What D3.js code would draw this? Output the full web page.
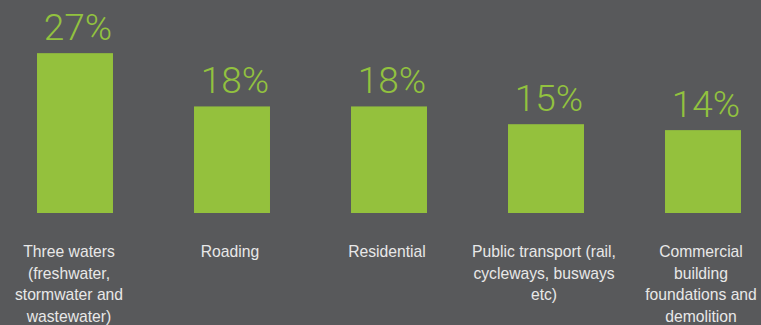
<!DOCTYPE html>
<html>
<head>
<meta charset="utf-8">
<script src="https://cdn.jsdelivr.net/npm/d3@7"></script>
<style>
  html, body { margin: 0; padding: 0; background: #58595b; }
  svg { display: block; }
</style>
</head>
<body>
<svg id="chart" width="761" height="325"></svg>
<script>
// Share of work by sector
const categories = [
  "Three waters (freshwater, stormwater and wastewater)",
  "Roading",
  "Residential",
  "Public transport (rail, cycleways, busways etc)",
  "Commercial building foundations and demolition"
];
const categoryLines = [
  ["Three waters", "(freshwater,", "stormwater and", "wastewater)"],
  ["Roading"],
  ["Residential"],
  ["Public transport (rail,", "cycleways, busways", "etc)"],
  ["Commercial", "building", "foundations and", "demolition"]
];
const values = [27, 18, 18, 15, 14];
const valueLabels = ["27%", "18%", "18%", "15%", "14%"];

const width = 761, height = 325;
const baseline = 213;
const bg = "#58595b";
const barColor = "#94c13d";
const valueColor = "#92c23f";
const textColor = "#e8e8e8";

const svg = d3.select("#chart");
svg.append("rect").attr("width", width).attr("height", height).attr("fill", bg);

const x = d3.scaleBand()
  .domain(categories)
  .range([-3.5, 781.5])
  .paddingInner(0.516)
  .paddingOuter(0.258);

const y = d3.scaleLinear()
  .domain([0, 27])
  .range([baseline, baseline - 27 * 5.92]);

const data = categories.map((c, i) => ({
  cat: c, value: values[i], label: valueLabels[i], lines: categoryLines[i]
}));

// bars
svg.selectAll("rect.bar")
  .data(data)
  .join("rect")
  .attr("class", "bar")
  .attr("x", d => x(d.cat))
  .attr("y", d => y(d.value))
  .attr("width", x.bandwidth())
  .attr("height", d => y(0) - y(d.value))
  .attr("fill", barColor);

// value labels above bars
svg.selectAll("text.value")
  .data(data)
  .join("text")
  .attr("class", "value")
  .attr("x", d => x(d.cat) + x.bandwidth() / 2 + 3)
  .attr("y", d => y(d.value) - 13)
  .attr("text-anchor", "middle")
  .attr("font-family", "Roboto, 'Liberation Sans', sans-serif")
  .attr("font-weight", 300)
  .attr("font-size", 37)
  .attr("fill", valueColor)
  .text(d => d.label);

// category labels below bars
const cat = svg.selectAll("text.cat")
  .data(data)
  .join("text")
  .attr("class", "cat")
  .attr("text-anchor", "middle")
  .attr("font-family", "'Liberation Sans', Arial, sans-serif")
  .attr("font-size", 15.7)
  .attr("fill", textColor)
  .attr("transform", (d, i) => `translate(${x(d.cat) + x.bandwidth() / 2 - (i === 0 ? 6 : 2)},257)`);

cat.selectAll("tspan")
  .data(d => d.lines)
  .join("tspan")
  .attr("x", 0)
  .attr("y", (d, i) => i * 21.5)
  .text(d => d);
</script>
</body>
</html>
